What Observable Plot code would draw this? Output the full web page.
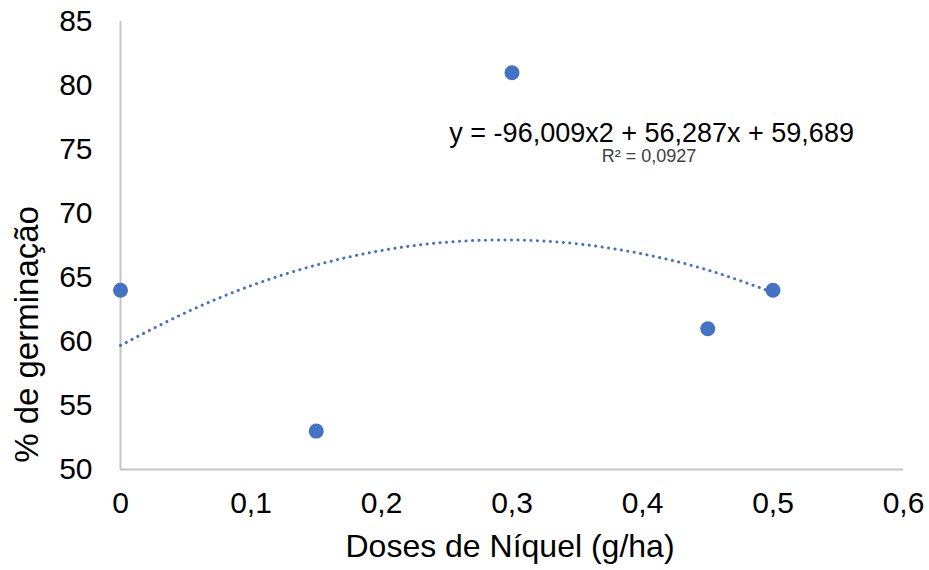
<!DOCTYPE html>
<html>
<head>
<meta charset="utf-8">
<script src="https://cdn.jsdelivr.net/npm/d3@7"></script>
<script src="https://cdn.jsdelivr.net/npm/@observablehq/plot@0.6"></script>
<style>
  html, body { margin: 0; padding: 0; background: #fff; }
  #chart { width: 929px; height: 570px; }
</style>
</head>
<body>
<div id="chart"></div>
<script>
// Observed points
const doses = [0, 0.15, 0.3, 0.45, 0.5];
const germinacao = [64, 53, 81, 61, 64];

// Trendline (polynomial, order 2)
const trendX = [0, 0.05, 0.1, 0.15, 0.2, 0.25, 0.3, 0.35, 0.4, 0.45, 0.5];
const trendY = [59.69, 62.26, 64.36, 65.97, 67.11, 67.76, 67.93, 67.63, 66.84, 65.58, 63.83];

const xTicks = [0, 0.1, 0.2, 0.3, 0.4, 0.5, 0.6];
const yTicks = [50, 55, 60, 65, 70, 75, 80, 85];

const equationText = "y = -96,009x2 + 56,287x + 59,689";
const r2Text = "R² = 0,0927";
const xTitle = "Doses de Níquel (g/ha)";
const yTitle = "% de germinação";

const points = doses.map((d, i) => ({x: d, y: germinacao[i]}));
const trend = trendX.map((d, i) => ({x: d, y: trendY[i]}));

const blue = "#4472C4";
const fmt = v => String(v).replace(".", ",");

const chart = Plot.plot({
  width: 929,
  height: 570,
  marginLeft: 120,
  marginRight: 26,
  marginTop: 21,
  marginBottom: 101,
  style: {fontFamily: "'Liberation Sans', Arial, sans-serif", color: "#000", background: "#fff"},
  x: {domain: [0, 0.6]},
  y: {domain: [50, 85]},
  marks: [
    Plot.axisX({ticks: xTicks, tickSize: 0, tickPadding: 22, tickFormat: fmt, fontSize: 30, label: null, fill: "#000"}),
    Plot.axisY({ticks: yTicks, tickSize: 0, tickPadding: 28, fontSize: 30, label: null, fill: "#000"}),
    Plot.ruleX([0], {stroke: "#c4c4c4", strokeWidth: 2}),
    Plot.ruleY([50], {stroke: "#c4c4c4", strokeWidth: 2}),
    Plot.line(trend, {x: "x", y: "y", curve: "natural", stroke: blue, strokeWidth: 3, strokeLinecap: "round", strokeDasharray: "0.1,6.4"}),
    Plot.dot(points, {x: "x", y: "y", r: 7.5, fill: blue, stroke: "none"}),
    Plot.text([equationText], {x: 0.407, y: 76.3, text: d => d, fontSize: 27, fill: "#000", textAnchor: "middle"}),
    Plot.text([r2Text], {x: 0.405, y: 74.5, text: d => d, fontSize: 18, fill: "#404040", textAnchor: "middle"}),
    Plot.text([xTitle], {frameAnchor: "bottom", dy: 87, dx: -2, text: d => d, fontSize: 32, fill: "#000"}),
    Plot.text([yTitle], {x: -0.0713, y: 60.55, rotate: -90, text: d => d, fontSize: 33, fill: "#000"})
  ]
});
document.getElementById("chart").appendChild(chart);
</script>
</body>
</html>
